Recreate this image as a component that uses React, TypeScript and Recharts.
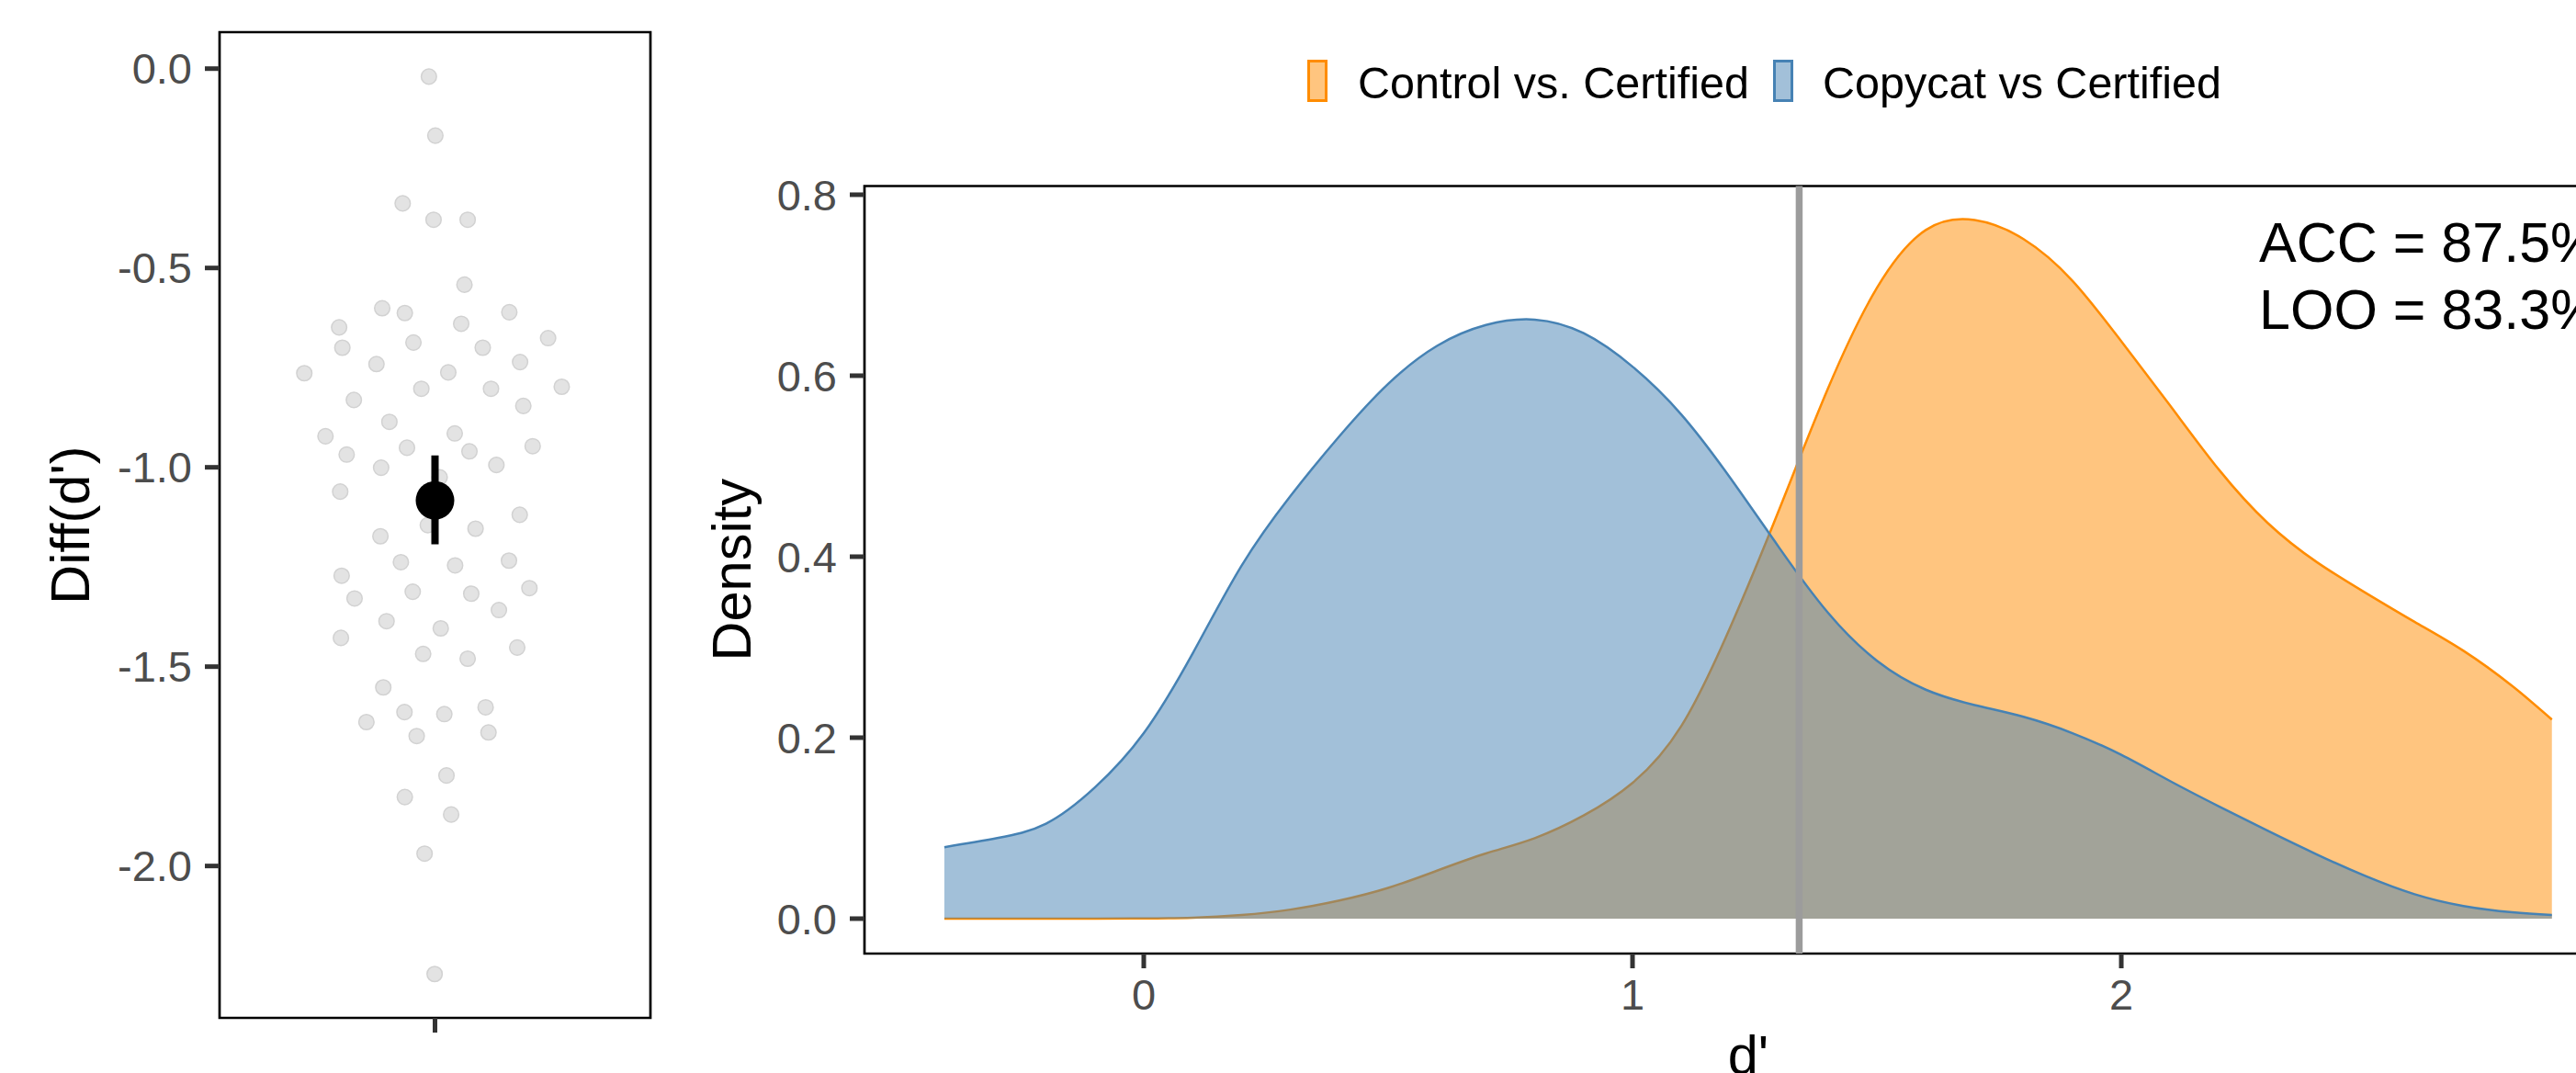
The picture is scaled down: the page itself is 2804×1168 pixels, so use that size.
import React from 'react';
import {
  ComposedChart,
  Scatter,
  Area,
  XAxis,
  YAxis,
  ReferenceLine,
  ReferenceArea,
  Legend,
} from 'recharts';

const FONT = '"Liberation Sans", Arial, Helvetica, sans-serif';

// ---------- Left panel: individual Diff(d') values (jittered) ----------
const jitterX = [
  0.983, 1.001, 0.91, 0.996, 1.091, 1.082, 0.853, 0.916, 1.207, 0.733, 1.073,
  0.742, 0.94, 1.133, 1.315, 0.636, 0.837, 1.037, 1.237, 0.962, 1.156, 1.353,
  0.774, 1.246, 0.873, 0.695, 1.055, 0.754, 0.922, 1.096, 1.272, 0.85, 1.171,
  1.013, 0.736, 0.98, 0.848, 1.113, 1.236, 0.905, 1.056, 1.206, 0.74, 0.776,
  0.938, 1.101, 1.263, 1.178, 0.865, 1.016, 0.738, 0.967, 1.091, 1.229, 0.856,
  0.915, 1.026, 1.141, 0.809, 0.949, 1.149, 1.032, 0.916, 1.045, 0.971, 0.999,
];
const diffValues = [
  -0.02, -0.168, -0.338, -0.379, -0.379, -0.542, -0.601, -0.613, -0.611, -0.649,
  -0.64, -0.7, -0.687, -0.7, -0.676, -0.764, -0.741, -0.762, -0.736, -0.803,
  -0.803, -0.798, -0.831, -0.846, -0.886, -0.922, -0.915, -0.968, -0.951, -0.96,
  -0.947, -1.001, -0.994, -1.025, -1.061, -1.145, -1.173, -1.154, -1.119, -1.238,
  -1.246, -1.234, -1.272, -1.329, -1.312, -1.317, -1.303, -1.358, -1.386, -1.404,
  -1.428, -1.468, -1.48, -1.452, -1.552, -1.614, -1.619, -1.602, -1.639, -1.674,
  -1.665, -1.773, -1.827, -1.871, -1.969, -2.271,
];
const meanDiff = -1.083;
const ciUpper = -0.97;
const ciLower = -1.193;
const diffTicks = [0, -0.5, -1, -1.5, -2];
const categoryTicks = [1];
const diffDomain: [number, number] = [-2.381, 0.0915];
const categoryDomain: [number, number] = [0.4, 1.6];

// ---------- Right panel: density of d' ----------
const dPrimeGrid = [
  -0.408, -0.3, -0.2, -0.1, 0, 0.1, 0.2, 0.3, 0.4, 0.5, 0.6, 0.7, 0.8, 0.9, 1.0,
  1.1, 1.2, 1.3, 1.4, 1.5, 1.6, 1.7, 1.8, 1.9, 2.0, 2.1, 2.2, 2.3, 2.4, 2.5, 2.6,
  2.7, 2.8, 2.881,
];
const controlDensity = [
  0, 0, 0, 0, 0.0002, 0.001, 0.004, 0.01, 0.02, 0.034, 0.053, 0.072, 0.089,
  0.114, 0.15, 0.213, 0.322, 0.452, 0.586, 0.697, 0.761, 0.772, 0.751, 0.705,
  0.638, 0.567, 0.496, 0.437, 0.394, 0.36, 0.328, 0.296, 0.257, 0.22,
];
const copycatDensity = [
  0.079, 0.089, 0.105, 0.145, 0.205, 0.293, 0.39, 0.467, 0.533, 0.591, 0.633,
  0.656, 0.662, 0.647, 0.61, 0.557, 0.487, 0.41, 0.338, 0.285, 0.253, 0.236,
  0.223, 0.205, 0.181, 0.152, 0.124, 0.097, 0.071, 0.047, 0.027, 0.014, 0.007,
  0.004,
];
const densityTicks = [0, 0.2, 0.4, 0.6, 0.8];
const dPrimeTicks = [0, 1, 2, 3];
const densityDomain: [number, number] = [-0.0386, 0.8096];
const dPrimeDomain: [number, number] = [-0.5714, 3.045];
const criterion = 1.341;
const seriesNames = ['Control vs. Certified', 'Copycat vs Certified'];
const seriesColors = ['#FF8C00', '#4682B4'];
const annotationLabels = ['ACC = 87.5%', 'LOO = 83.3%'];
const annotationX = [2.282, 2.282];
const annotationY = [0.726, 0.6515];

// ---------- derived tables ----------
const densityData = dPrimeGrid.map((x, i) => ({
  x,
  control: controlDensity[i],
  copycat: copycatDensity[i],
}));
const diffPoints = jitterX.map((x, i) => ({ x, y: diffValues[i] }));
const meanPoint = [{ x: 1, y: meanDiff }];
const ciSegment = [
  { x: 1, y: ciUpper },
  { x: 1, y: ciLower },
];
const annotations = annotationLabels.map((label, i) => ({
  x: annotationX[i],
  y: annotationY[i],
  label,
}));

const tickStyle = { fill: '#4D4D4D', fontSize: 47, fontFamily: FONT };
const tickLineStyle = { stroke: '#333333', strokeWidth: 5 };

const GreyDot = (p: any) => (
  <circle cx={p.cx} cy={p.cy} r={8.3} fill="#E3E3E3" stroke="#D2D2D2" strokeWidth={1.5} />
);
const BlackDot = (p: any) => <circle cx={p.cx} cy={p.cy} r={21} fill="#000" />;
const NoDot = () => <g />;
const AnnotText = (p: any) => (
  <text x={p.cx} y={p.cy} fontSize={61} fontFamily={FONT} fill="#000" textAnchor="start">
    {p.payload?.label}
  </text>
);

const yTitle = (text: string, baselineX: number, fallback: any) => (props: any) => {
  const vb = props?.viewBox ?? fallback;
  const cx = vb.x + baselineX;
  const cy = vb.y + vb.height / 2;
  return (
    <text
      x={cx}
      y={cy}
      transform={`rotate(-90 ${cx} ${cy})`}
      textAnchor="middle"
      fontSize={59.5}
      fontFamily={FONT}
      fill="#000"
    >
      {text}
    </text>
  );
};

const xTitle = (text: string, fallback: any) => (props: any) => {
  const vb = props?.viewBox ?? fallback;
  return (
    <text
      x={vb.x + vb.width / 2}
      y={vb.y + 131}
      textAnchor="middle"
      fontSize={59.5}
      fontFamily={FONT}
      fill="#000"
    >
      {text}
    </text>
  );
};

const LegendContent = () => {
  const keyX = [4.5, 511.5];
  const textX = [58, 564];
  return (
    <svg width={1010} height={60} style={{ display: 'block', overflow: 'visible' }}>
      {seriesNames.map((name, i) => (
        <g key={name}>
          <rect
            x={keyX[i]}
            y={6.5}
            width={19}
            height={43}
            fill={seriesColors[i]}
            fillOpacity={0.5}
            stroke={seriesColors[i]}
            strokeWidth={3}
          />
          <text x={textX[i]} y={47} fontSize={48.5} fontFamily={FONT} fill="#000">
            {name}
          </text>
        </g>
      ))}
    </svg>
  );
};

export default function App() {
  return (
    <div
      style={{
        position: 'absolute',
        left: 0,
        top: 0,
        width: 2804,
        height: 1168,
        overflow: 'hidden',
        background: '#fff',
        fontFamily: FONT,
      }}
    >
      <div style={{ position: 'absolute', left: 0, top: 0 }}>
        <ComposedChart
          width={740}
          height={1168}
          margin={{ top: 35, right: 32, bottom: 0, left: 0 }}
        >
          <XAxis
            type="number"
            dataKey="x"
            domain={categoryDomain}
            ticks={categoryTicks}
            allowDataOverflow
            interval={0}
            tickFormatter={() => ''}
            tick={tickStyle}
            tickSize={16}
            axisLine={false}
            tickLine={tickLineStyle}
            height={60}
          />
          <YAxis
            type="number"
            domain={diffDomain}
            ticks={diffTicks}
            allowDataOverflow
            interval={0}
            tickFormatter={(v: number) => v.toFixed(1)}
            width={239}
            tickSize={16}
            tickMargin={14}
            axisLine={false}
            tickLine={tickLineStyle}
            tick={tickStyle}
            label={{
              content: yTitle("Diff(d')", 97, { x: 0, y: 35, width: 239, height: 1073 }),
            }}
          />
          <ReferenceArea
            x1={categoryDomain[0]}
            x2={categoryDomain[1]}
            y1={diffDomain[0]}
            y2={diffDomain[1]}
            fill="none"
            fillOpacity={0}
            stroke="#000"
            strokeWidth={2.7}
            ifOverflow="visible"
          />
          <Scatter data={diffPoints} dataKey="y" shape={GreyDot} isAnimationActive={false} />
          <Scatter
            data={ciSegment}
            dataKey="y"
            shape={NoDot}
            line={{ stroke: '#000', strokeWidth: 8 }}
            isAnimationActive={false}
          />
          <Scatter data={meanPoint} dataKey="y" shape={BlackDot} isAnimationActive={false} />
        </ComposedChart>
      </div>

      <div style={{ position: 'absolute', left: 740, top: 0 }}>
        <ComposedChart
          width={2200}
          height={1168}
          data={densityData}
          margin={{ top: 202.5, right: 75, bottom: 0, left: 0 }}
        >
          <XAxis
            type="number"
            dataKey="x"
            domain={dPrimeDomain}
            ticks={dPrimeTicks}
            allowDataOverflow
            interval={0}
            tickSize={16}
            tickMargin={12}
            height={130}
            axisLine={false}
            tickLine={tickLineStyle}
            tick={tickStyle}
            label={{ content: xTitle("d'", { x: 201, y: 1038, width: 1924, height: 130 }) }}
          />
          <YAxis
            type="number"
            domain={densityDomain}
            ticks={densityTicks}
            allowDataOverflow
            interval={0}
            tickFormatter={(v: number) => v.toFixed(1)}
            width={201}
            tickSize={16}
            tickMargin={14}
            axisLine={false}
            tickLine={tickLineStyle}
            tick={tickStyle}
            label={{
              content: yTitle('Density', 76.5, { x: 0, y: 202.5, width: 201, height: 835.5 }),
            }}
          />
          <Legend
            layout="horizontal"
            verticalAlign="middle"
            align="center"
            wrapperStyle={{ left: 680, top: 60, width: 1010, height: 60 }}
            content={LegendContent}
          />
          <Area
            type="natural"
            dataKey="control"
            name={seriesNames[0]}
            stroke={seriesColors[0]}
            strokeWidth={2.5}
            fill={seriesColors[0]}
            fillOpacity={0.5}
            baseValue={0}
            dot={false}
            activeDot={false}
            isAnimationActive={false}
          />
          <Area
            type="natural"
            dataKey="copycat"
            name={seriesNames[1]}
            stroke={seriesColors[1]}
            strokeWidth={2.5}
            fill={seriesColors[1]}
            fillOpacity={0.5}
            baseValue={0}
            dot={false}
            activeDot={false}
            isAnimationActive={false}
          />
          <ReferenceLine x={criterion} stroke="#9C9C9C" strokeWidth={7.5} />
          <ReferenceArea
            x1={dPrimeDomain[0]}
            x2={dPrimeDomain[1]}
            y1={densityDomain[0]}
            y2={densityDomain[1]}
            fill="none"
            fillOpacity={0}
            stroke="#000"
            strokeWidth={2.7}
            ifOverflow="visible"
          />
          <Scatter data={annotations} dataKey="y" shape={AnnotText} isAnimationActive={false} />
        </ComposedChart>
      </div>
    </div>
  );
}
